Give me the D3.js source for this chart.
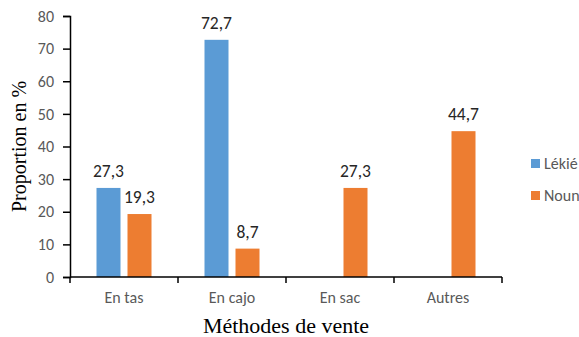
<!DOCTYPE html>
<html><head><meta charset="utf-8">
<script src="https://cdn.jsdelivr.net/npm/d3@7"></script>
<style>body{margin:0;background:#fff;overflow:hidden}</style>
</head><body>
<svg id="c" width="579" height="337"></svg>
<script>
const categories = ["En tas", "En cajo", "En sac", "Autres"];
const seriesNames = ["Lékié", "Noun"];
const lekie = [27.3, 72.7, null, null];
const noun = [19.3, 8.7, 27.3, 44.7];
const yTicks = [0, 10, 20, 30, 40, 50, 60, 70, 80];
const colors = ["#5B9BD5", "#ED7D31"];

const svg = d3.select("#c");
const mLeft = 70, mRight = 502, mTop = 16, mBottom = 277;
const x = d3.scaleBand().domain(categories).range([mLeft, mRight]);
const y = d3.scaleLinear().domain([0, 80]).range([mBottom, mTop]);
const bw = 24, gap = 7;
const series = [lekie, noun];

const font = "Carlito, Lato, 'Open Sans', sans-serif";

// y axis
const ya = svg.append("g").attr("transform", `translate(${mLeft},0)`)
  .call(d3.axisLeft(y).tickValues(yTicks).tickSize(7).tickPadding(9).tickFormat(d3.format("d")));
ya.selectAll("text").attr("fill", "#595959").style("font-family", font).style("font-size", "16px");
ya.select(".domain").attr("stroke-width", 1.5);
ya.selectAll(".tick line").attr("stroke-width", 1.5);

// bars
series.forEach((s, i) => {
  const g = svg.append("g");
  const data = categories.map((c, j) => ({c, v: s[j]})).filter(d => d.v != null);
  const off = i === 0 ? -(bw + gap / 2) : gap / 2;
  g.selectAll("rect").data(data).join("rect")
    .attr("x", d => x(d.c) + x.bandwidth() / 2 + off)
    .attr("y", d => y(d.v))
    .attr("width", bw)
    .attr("height", d => y(0) - y(d.v))
    .attr("fill", colors[i]);
  g.selectAll("text").data(data).join("text")
    .attr("x", d => x(d.c) + x.bandwidth() / 2 + off + bw / 2)
    .attr("y", d => y(d.v) - 11)
    .attr("text-anchor", "middle")
    .attr("fill", "#262626")
    .style("font-family", font).style("font-size", "17.5px")
    .text(d => d3.format(".1f")(d.v).replace(".", ","));
});

// x axis
const xa = svg.append("g").attr("transform", `translate(0,${mBottom})`);
xa.append("line").attr("x1", mLeft).attr("x2", mRight).attr("stroke", "#000").attr("stroke-width", 1.5);
const xt = categories.map(c => x(c)).concat([mRight]);
xa.selectAll("line.t").data(xt).join("line").attr("class", "t")
  .attr("x1", d => d).attr("x2", d => d).attr("y1", 0).attr("y2", 6).attr("stroke", "#000").attr("stroke-width", 1.5);
xa.selectAll("text").data(categories).join("text")
  .attr("x", d => x(d) + x.bandwidth() / 2).attr("y", 26)
  .attr("text-anchor", "middle").attr("fill", "#595959")
  .style("font-family", font).style("font-size", "16px").text(d => d);

// titles
svg.append("text").attr("x", (mLeft + mRight) / 2).attr("y", 333).attr("text-anchor", "middle")
  .style("font-family", "'Liberation Serif', 'Times New Roman', serif").style("font-size", "22px").attr("fill", "#000")
  .text("Méthodes de vente");
svg.append("text").attr("transform", `translate(26,${(mTop + mBottom) / 2}) rotate(-90)`).attr("text-anchor", "middle")
  .style("font-family", "'Liberation Serif', 'Times New Roman', serif").style("font-size", "20px").attr("fill", "#000")
  .text("Proportion en %");

// legend
const lg = svg.append("g");
seriesNames.forEach((n, i) => {
  const yy = 159 + i * 32;
  lg.append("rect").attr("x", 531).attr("y", yy).attr("width", 9).attr("height", 9).attr("fill", colors[i]);
  lg.append("text").attr("x", 544).attr("y", yy + 10).attr("fill", "#595959")
    .style("font-family", font).style("font-size", "16px").text(n);
});
</script>
</body></html>
